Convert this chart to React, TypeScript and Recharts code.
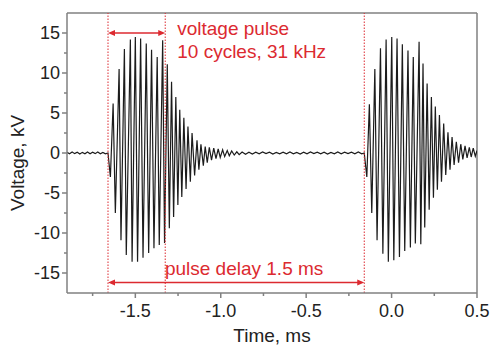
import React from 'react';
import { LineChart, Line, XAxis, YAxis, ReferenceLine } from 'recharts';

// ---- data (time in ms, voltage in kV) ----
const preTime = [-1.9, -1.885, -1.87, -1.855, -1.84, -1.825, -1.81, -1.795, -1.78, -1.765, -1.75, -1.735, -1.72, -1.705, -1.69, -1.675, -1.66];
const preVolt = [0.1, -0.1, 0.12, -0.08, 0.1, -0.12, 0.08, -0.1, 0.12, -0.1, 0.1, -0.08, 0.12, -0.1, 0.08, -0.1, 0];

const burst1Time = [-1.646, -1.630, -1.617, -1.595, -1.584, -1.564, -1.553, -1.529, -1.519, -1.500, -1.487, -1.469, -1.455, -1.436, -1.422, -1.405, -1.391, -1.372, -1.360, -1.340, -1.329, -1.313, -1.301, -1.288, -1.276, -1.263, -1.251, -1.240, -1.228, -1.216, -1.203, -1.192, -1.178, -1.168, -1.153, -1.139, -1.128, -1.116, -1.102, -1.091, -1.079, -1.067, -1.054, -1.041, -1.028, -1.015, -1.003, -0.989, -0.977, -0.962, -0.950, -0.936, -0.921, -0.906, -0.892];
const burst1Volt = [-3, 6.2, -7.5, 10.5, -10.9, 13, -12.75, 14.2, -13.6, 14.5, -13.6, 14.3, -13.1, 13.7, -12.5, 12.9, -11.9, 12, -11.5, 14.1, -11.25, 11.1, -9.4, 8.9, -8, 7, -6.5, 5.4, -5.5, 4.4, -4.5, 3.3, -3.6, 2.5, -2.8, 1.6, -2.1, 1.1, -1.6, 0.8, -1.2, 0.7, -0.9, 0.6, -0.7, 0.5, -0.55, 0.4, -0.45, 0.3, -0.35, 0.25, -0.25, 0.15, -0.2];

const gapTime = [-0.875, -0.855, -0.835, -0.815, -0.795, -0.775, -0.755, -0.735, -0.715, -0.695, -0.675, -0.655, -0.635, -0.615, -0.595, -0.575, -0.555, -0.535, -0.515, -0.495, -0.475, -0.455, -0.435, -0.415, -0.395, -0.375, -0.355, -0.335, -0.315, -0.295, -0.275, -0.255, -0.235, -0.215, -0.195, -0.175, -0.16];
const gapVolt = [0.12, -0.15, 0.1, -0.12, 0.1, -0.1, 0.12, -0.08, 0.1, -0.12, 0.08, -0.1, 0.1, -0.1, 0.12, -0.1, 0.08, -0.12, 0.1, -0.1, 0.12, -0.08, 0.1, -0.1, 0.1, -0.12, 0.08, -0.1, 0.12, -0.1, 0.1, -0.08, 0.1, -0.1, 0.12, -0.1, 0];

const burst2Time = [-0.145, -0.130, -0.116, -0.098, -0.085, -0.065, -0.051, -0.032, -0.019, 0.001, 0.013, 0.032, 0.046, 0.063, 0.077, 0.096, 0.110, 0.127, 0.139, 0.161, 0.171, 0.184, 0.194, 0.208, 0.220, 0.233, 0.245, 0.256, 0.268, 0.280, 0.292, 0.305, 0.317, 0.330, 0.342, 0.354, 0.366, 0.379, 0.392, 0.405, 0.417, 0.430, 0.442, 0.455, 0.466, 0.478, 0.490, 0.5];
const burst2Volt = [-3, 6.1, -7.5, 10.5, -10.9, 13.1, -12.6, 14.2, -13.6, 14.5, -13.4, 14.3, -13, 13.6, -12.25, 12.8, -11.8, 12, -11.3, 13.9, -11.4, 11.2, -9.3, 8.7, -7.1, 7, -5.6, 5.8, -4.6, 4.75, -3.6, 3.7, -2.75, 2.6, -2.1, 2, -1.5, 1.4, -1.2, 1.1, -0.8, 0.9, -0.6, 0.7, -0.5, 0.6, -0.4, 0.3];

const xTicks = [-1.75, -1.5, -1.25, -1.0, -0.75, -0.5, -0.25, 0, 0.25, 0.5];
const yTicks = [-15, -12.5, -10, -7.5, -5, -2.5, 0, 2.5, 5, 7.5, 10, 12.5, 15];

const pulseStart = -1.66;
const pulseEnd = -1.325;
const nextPulse = -0.16;
const pulseArrowY = 15;
const delayArrowY = -16.2;

const labelPulse1 = 'voltage pulse';
const labelPulse2 = '10 cycles, 31 kHz';
const labelDelay = 'pulse delay 1.5 ms';

const times = [...preTime, ...burst1Time, ...gapTime, ...burst2Time];
const volts = [...preVolt, ...burst1Volt, ...gapVolt, ...burst2Volt];
const data = times.map((t, i) => ({ t, v: volts[i] }));

const RED = '#dc2a30';
const AXIS = '#808080';
const FONT = 'Liberation Sans, Arial, sans-serif';

const isMajor = (v: number, step: number) => Math.abs(v / step - Math.round(v / step)) < 1e-6;

const XTick = (props: any) => {
  const { x, y, payload } = props;
  const v = payload.value as number;
  const major = isMajor(v, 0.5);
  return (
    <g>
      <line x1={x} y1={y} x2={x} y2={y + (major ? 5 : 3)} stroke={AXIS} strokeWidth={1.5} />
      {major && (
        <text x={x} y={y + 24} textAnchor="middle" fontSize={18} fontFamily={FONT} fill="#222">
          {v.toFixed(1)}
        </text>
      )}
    </g>
  );
};

const YTick = (props: any) => {
  const { x, y, payload } = props;
  const v = payload.value as number;
  const major = isMajor(v, 5);
  return (
    <g>
      <line x1={x} y1={y} x2={x - (major ? 5 : 3)} y2={y} stroke={AXIS} strokeWidth={1.5} />
      {major && (
        <text x={x - 7} y={y + 6} textAnchor="end" fontSize={18} fontFamily={FONT} fill="#222">
          {String(v)}
        </text>
      )}
    </g>
  );
};

const YLabel = (props: any) => {
  const vb = props.viewBox || {};
  const cx = 17;
  const cy = (vb.y ?? 13) + (vb.height ?? 280) / 2 + 10;
  return (
    <text x={cx} y={cy} transform={`rotate(-90 ${cx} ${cy})`} textAnchor="middle" dominantBaseline="central" fontSize={19} fontFamily={FONT} fill="#222">
      Voltage, kV
    </text>
  );
};

const XLabel = (props: any) => {
  const vb = props.viewBox || {};
  const cx = 272;
  const cy = (vb.y ?? 293) + 49;
  return (
    <text x={cx} y={cy} textAnchor="middle" fontSize={19} fontFamily={FONT} fill="#222">
      Time, ms
    </text>
  );
};

const arrowHead = (x: number, y: number, dir: number) => {
  const len = 7;
  const hw = 3;
  return `M${x},${y} L${x - dir * len},${y - hw} L${x - dir * len},${y + hw} Z`;
};

const PulseArrow = (props: any) => {
  const { x1, y1, x2, y2 } = props;
  return (
    <g>
      <line x1={x1 + 3} y1={y1} x2={x2 - 3} y2={y2} stroke={RED} strokeWidth={1.5} />
      <path d={arrowHead(x1, y1, -1)} fill={RED} />
      <path d={arrowHead(x2, y2, 1)} fill={RED} />
      <text x={x2 + 12} y={y1 + 2} fontSize={19} fontFamily={FONT} fill={RED}>{labelPulse1}</text>
      <text x={x2 + 12} y={y1 + 25} fontSize={19} fontFamily={FONT} fill={RED}>{labelPulse2}</text>
    </g>
  );
};

const DelayArrow = (props: any) => {
  const { x1, y1, x2, y2 } = props;
  return (
    <g>
      <line x1={x1 + 3} y1={y1} x2={x2 - 3} y2={y2} stroke={RED} strokeWidth={1.5} />
      <path d={arrowHead(x1, y1, -1)} fill={RED} />
      <path d={arrowHead(x2, y2, 1)} fill={RED} />
      <text x={(x1 + x2) / 2 + 8} y={y1 - 8} textAnchor="middle" fontSize={19} fontFamily={FONT} fill={RED}>{labelDelay}</text>
    </g>
  );
};

export default function App() {
  return (
    <div style={{ position: 'absolute', left: 0, top: 0, width: 491, height: 345, background: '#fff' }}>
      <LineChart width={491} height={345} data={data} margin={{ top: 13, right: 14, bottom: 0, left: 0 }}>
        <XAxis
          dataKey="t"
          type="number"
          domain={[-1.9, 0.5]}
          ticks={xTicks}
          interval={0}
          allowDataOverflow
          tickSize={0}
          tickMargin={0}
          tickLine={false}
          tick={<XTick />}
          axisLine={{ stroke: AXIS, strokeWidth: 1.5 }}
          height={52}
          label={<XLabel />}
        />
        <YAxis
          type="number"
          domain={[-17.5, 17.5]}
          ticks={yTicks}
          interval={0}
          allowDataOverflow
          tickSize={0}
          tickMargin={0}
          tickLine={false}
          tick={<YTick />}
          axisLine={{ stroke: AXIS, strokeWidth: 1.5 }}
          width={67}
          label={<YLabel />}
        />
        <ReferenceLine y={17.5} stroke={AXIS} strokeWidth={1.5} />
        <ReferenceLine x={0.5} stroke={AXIS} strokeWidth={1.5} />
        <Line dataKey="v" type="linear" dot={false} stroke="#1c1c1c" strokeWidth={1.2} isAnimationActive={false} />
        <ReferenceLine x={pulseStart} stroke={RED} strokeWidth={1} strokeDasharray="1.5 1.5" />
        <ReferenceLine x={pulseEnd} stroke={RED} strokeWidth={1} strokeDasharray="1.5 1.5" />
        <ReferenceLine x={nextPulse} stroke={RED} strokeWidth={1} strokeDasharray="1.5 1.5" />
        <ReferenceLine segment={[{ x: pulseStart, y: pulseArrowY }, { x: pulseEnd, y: pulseArrowY }]} shape={<PulseArrow />} />
        <ReferenceLine segment={[{ x: pulseStart, y: delayArrowY }, { x: nextPulse, y: delayArrowY }]} shape={<DelayArrow />} />
      </LineChart>
    </div>
  );
}
